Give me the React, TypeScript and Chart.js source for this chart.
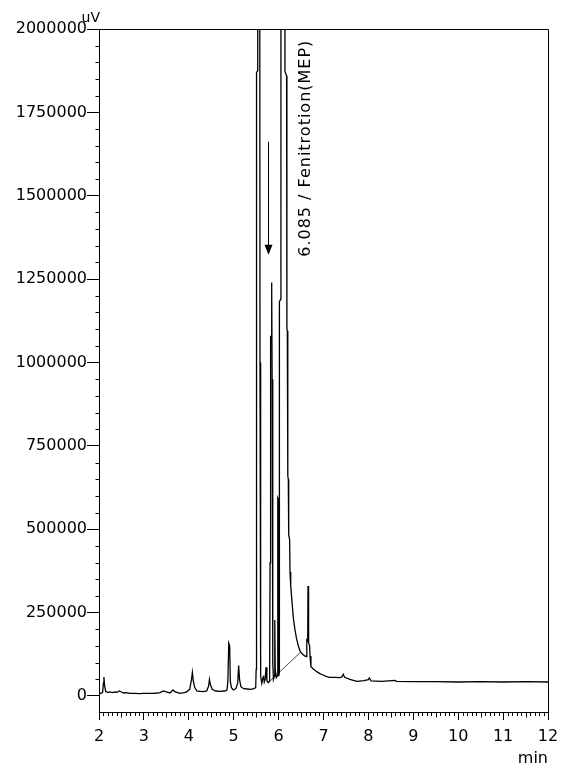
import React, { useEffect, useRef } from 'react';
import { Chart, registerables } from 'chart.js';

Chart.register(...registerables);

// ---- data (retention time [min], detector signal [uV]) ----
const earlyTrace: [number, number][] = [
  [2.0, 9000], [2.04, 8000], [2.08, 10000], [2.1, 40000], [2.11, 57000], [2.125, 30000],
  [2.15, 13000], [2.2, 11000], [2.25, 12000], [2.3, 10000], [2.35, 12000], [2.4, 11000],
  [2.45, 15000], [2.5, 12000], [2.55, 9000], [2.6, 10000], [2.7, 8000], [2.8, 8000],
  [2.9, 7000], [3.0, 8000], [3.1, 8000], [3.2, 8000], [3.3, 9000], [3.36, 10000],
  [3.43, 15000], [3.5, 12000], [3.58, 9000], [3.65, 18000], [3.7, 12000], [3.8, 8000],
  [3.9, 10000], [3.95, 12000], [4.02, 20000], [4.06, 50000], [4.08, 71000], [4.1, 45000],
  [4.13, 26000], [4.18, 15000], [4.25, 14000], [4.32, 13000], [4.4, 15000], [4.44, 30000],
  [4.46, 50000], [4.48, 35000], [4.52, 20000], [4.6, 15000], [4.7, 14000], [4.8, 15000],
  [4.85, 18000], [4.87, 43000], [4.89, 158000], [4.91, 150000], [4.925, 43000], [4.95, 25000],
  [4.99, 18000], [5.05, 22000], [5.09, 40000], [5.11, 91000], [5.13, 50000], [5.16, 28000],
  [5.22, 22000], [5.3, 21000], [5.38, 20000], [5.45, 22000],
];

const clusterTrace: [number, number][] = [
  [5.49, 25000], [5.5, 80000], [5.505, 300000], [5.512, 1870000], [5.535, 1875000],
  [5.548, 3500000], [5.575, 3500000], [5.586, 1000000], [5.6, 60000], [5.625, 38000],
  [5.65, 55000], [5.665, 58000], [5.68, 42000], [5.7, 50000], [5.72, 86000], [5.74, 45000],
  [5.77, 40000], [5.8, 45000], [5.81, 399000], [5.822, 1077000], [5.838, 1080000],
  [5.846, 1240000], [5.856, 950000], [5.87, 100000], [5.885, 50000], [5.905, 60000],
  [5.915, 228000], [5.925, 80000], [5.95, 55000], [5.972, 60000], [5.982, 594000],
  [5.995, 590000], [6.006, 60000], [6.013, 70000], [6.018, 1182000], [6.046, 1190000],
  [6.052, 3500000], [6.135, 3500000], [6.142, 1872000], [6.178, 1860000], [6.185, 1101000],
  [6.194, 1095000], [6.205, 660000], [6.216, 650000], [6.225, 483000], [6.245, 470000],
  [6.254, 372000], [6.27, 330000], [6.3, 280000], [6.33, 232000], [6.365, 198000],
  [6.4, 172000], [6.44, 150000], [6.48, 134000],
];

const tailTrace: [number, number][] = [
  [6.53, 126000], [6.58, 120000], [6.62, 118000], [6.628, 168000], [6.648, 165000],
  [6.655, 330000], [6.664, 325000], [6.672, 159000], [6.69, 152000], [6.7, 120000],
  [6.72, 88000], [6.78, 80000], [6.85, 73000], [6.92, 67000], [6.99, 63000], [7.07, 58000],
  [7.14, 56000], [7.25, 56000], [7.36, 55000], [7.41, 57000], [7.44, 65000], [7.47, 56000],
  [7.59, 50000], [7.74, 44000], [7.9, 46000], [8.0, 49000], [8.02, 54000], [8.06, 45000],
  [8.3, 44000], [8.59, 47000], [8.63, 44000], [9.0, 43000], [9.5, 43000], [10.0, 42000],
  [10.5, 43000], [11.0, 42000], [11.5, 43000], [12.0, 42000],
];

// integration baseline drawn under the main peak
const integrationBaseline: [number, number][] = [[5.771, 40000], [6.48, 130000]];

const xTicks = [2, 3, 4, 5, 6, 7, 8, 9, 10, 11, 12];
const yTicks = [0, 250000, 500000, 750000, 1000000, 1250000, 1500000, 1750000, 2000000];
const xRange = [2, 12];
const yRange = [-48000, 2000000];
const yMinorStep = 50000;
const yUnit = 'uV';
const xUnit = 'min';
const peakName = '6.085 / Fenitrotion(MEP)';
const peakLabelAt: [number, number] = [6.7, 1317000];
const arrowAt = { t: 5.755, from: 1662000, to: 1323000 };

const FONT = '"DejaVu Sans", "Liberation Sans", sans-serif';

const framePlugin = {
  id: 'chromFrame',
  afterDraw(chart: any) {
    const { ctx, chartArea: a, scales } = chart;
    const xs = scales.x;
    const ys = scales.y;
    ctx.save();
    ctx.strokeStyle = '#000';
    ctx.fillStyle = '#000';
    ctx.lineWidth = 1;
    const L = Math.round(a.left) + 0.5;
    const R = Math.round(a.right) + 0.5;
    const T = Math.round(a.top) + 0.5;
    const B = Math.round(a.bottom) + 0.5;
    ctx.beginPath();
    ctx.moveTo(L, T);
    ctx.lineTo(R, T);
    ctx.lineTo(R, B);
    for (let i = xRange[0] * 10; i <= xRange[1] * 10; i++) {
      if (i % 10 === 0) continue;
      const px = Math.round(xs.getPixelForValue(i / 10)) + 0.5;
      const len = i % 5 === 0 ? 5 : 3.5;
      ctx.moveTo(px, B);
      ctx.lineTo(px, B + len);
    }
    for (let v = 0; v <= yRange[1]; v += yMinorStep) {
      if (v % 250000 === 0) continue;
      const py = Math.round(ys.getPixelForValue(v)) + 0.5;
      ctx.moveTo(L - 4, py);
      ctx.lineTo(L, py);
    }
    ctx.stroke();

    // arrow marker
    const axp = Math.round(xs.getPixelForValue(arrowAt.t)) + 0.5;
    const y1 = ys.getPixelForValue(arrowAt.from);
    const y2 = ys.getPixelForValue(arrowAt.to);
    ctx.beginPath();
    ctx.moveTo(axp, y1);
    ctx.lineTo(axp, y2 - 9);
    ctx.stroke();
    ctx.beginPath();
    ctx.moveTo(axp - 4, y2 - 10);
    ctx.lineTo(axp + 4, y2 - 10);
    ctx.lineTo(axp, y2);
    ctx.closePath();
    ctx.fill();

    // unit labels
    ctx.font = `14px ${FONT}`;
    ctx.textAlign = 'right';
    ctx.textBaseline = 'alphabetic';
    ctx.fillText(yUnit, a.left + 1, a.top - 7);
    ctx.font = `16px ${FONT}`;
    ctx.fillText(xUnit, a.right, a.bottom + 51);

    // peak name (vertical)
    const lx = xs.getPixelForValue(peakLabelAt[0]);
    const ly = ys.getPixelForValue(peakLabelAt[1]);
    ctx.translate(lx, ly);
    ctx.rotate(-Math.PI / 2);
    ctx.font = `16px ${FONT}`;
    (ctx as any).letterSpacing = '1px';
    ctx.textAlign = 'left';
    ctx.fillText(peakName, 0, 0);
    ctx.restore();
  },
};

export default function App() {
  const ref = useRef<HTMLCanvasElement>(null);
  useEffect(() => {
    const trace = [...earlyTrace, ...clusterTrace, ...tailTrace];
    const chart = new Chart(ref.current as HTMLCanvasElement, {
      type: 'line',
      data: {
        datasets: [
          {
            data: trace.map(([x, y]) => ({ x, y })),
            borderColor: '#000',
            borderWidth: 1.3,
            pointRadius: 0,
            tension: 0,
            fill: false,
          },
          {
            data: integrationBaseline.map(([x, y]) => ({ x, y })),
            borderColor: '#222',
            borderWidth: 0.8,
            pointRadius: 0,
            tension: 0,
            fill: false,
          },
        ],
      },
      options: {
        animation: false,
        responsive: false,
        events: [],
        layout: { padding: { left: 0, top: 29, right: 18, bottom: 0 } },
        plugins: {
          legend: { display: false },
          tooltip: { enabled: false },
        },
        scales: {
          x: {
            type: 'linear',
            min: xRange[0],
            max: xRange[1],
            afterBuildTicks: (s: any) => {
              s.ticks = xTicks.map((v) => ({ value: v }));
            },
            afterFit: (s: any) => {
              s.height = 57;
            },
            grid: { drawOnChartArea: false, tickLength: 8, color: '#000', lineWidth: 1 },
            border: { display: true, color: '#000', width: 1 },
            ticks: {
              color: '#000',
              font: { family: FONT, size: 16 },
              padding: 7,
              maxRotation: 0,
              autoSkip: false,
              callback: (v: any) => String(v),
            },
          },
          y: {
            type: 'linear',
            min: yRange[0],
            max: yRange[1],
            afterBuildTicks: (s: any) => {
              s.ticks = yTicks.map((v) => ({ value: v }));
            },
            afterFit: (s: any) => {
              s.width = 99;
            },
            grid: { drawOnChartArea: false, tickLength: 12, color: '#000', lineWidth: 1 },
            border: { display: true, color: '#000', width: 1 },
            ticks: {
              color: '#000',
              font: { family: FONT, size: 16 },
              padding: 0,
              autoSkip: false,
              callback: (v: any) => String(v),
            },
          },
        },
      },
      plugins: [framePlugin],
    } as any);
    return () => chart.destroy();
  }, []);
  return (
    <div style={{ position: 'absolute', left: 0, top: 0, width: 566, height: 769, background: '#fff' }}>
      <canvas ref={ref} width={566} height={769} style={{ display: 'block' }} />
    </div>
  );
}
